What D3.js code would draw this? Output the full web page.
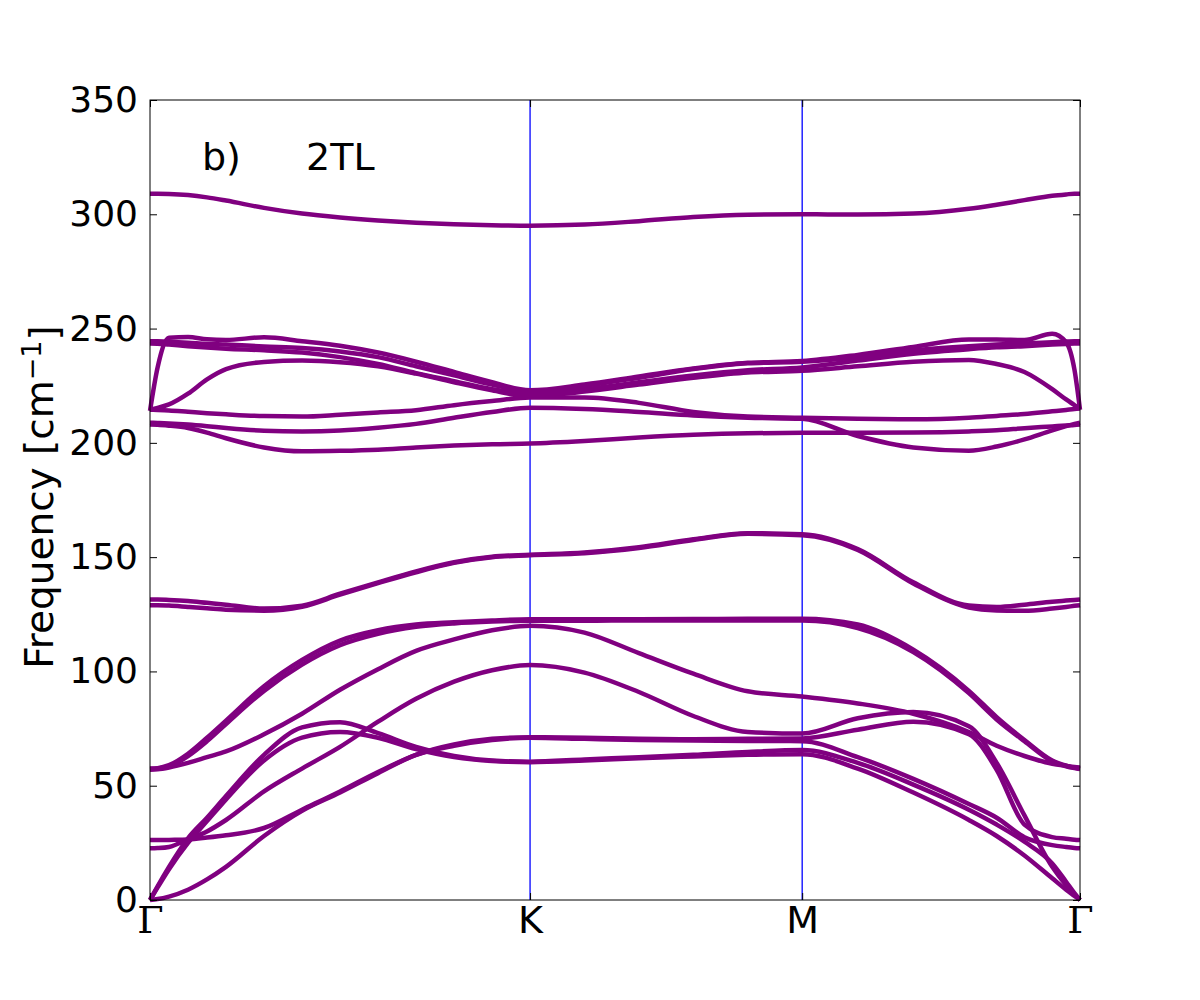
<!DOCTYPE html>
<html>
<head>
<meta charset="utf-8">
<script src="https://cdn.jsdelivr.net/npm/d3@7"></script>
<style>
  body { margin: 0; background: #fff; }
  text { font-family: "DejaVu Sans", sans-serif; }
</style>
</head>
<body>
<script>
// path coordinate: 0 = Gamma, 1 = K, 2 = M, 3 = Gamma (fraction along each segment)
var qGrid = [0, 0.02, 0.05, 0.1, 0.15, 0.2, 0.3, 0.4, 0.5, 0.6, 0.7, 0.8, 0.9, 1,
             1.2, 1.4, 1.6, 1.8, 2,
             2.2, 2.4, 2.6, 2.7, 2.8, 2.9, 2.95, 2.98, 3];

// cumulative path length at the high-symmetry points
var kDist = [0, 1.0, 1.716, 2.447];
var kLabels = ["Γ", "K", "M", "Γ"];
var yTicks = [0, 50, 100, 150, 200, 250, 300, 350];

// phonon branches, frequency in cm^-1 at each qGrid point
var bandTop = [309, 309, 308.9, 308.4, 307.4, 306, 302.8, 300.3, 298.6, 297.3, 296.3, 295.6, 295.2, 295,
               295.5, 297, 298.8, 299.8, 300,
               299.9, 300.3, 302.4, 304.2, 306.2, 308.1, 308.7, 309, 309];
var bandC1 = [214, 233, 246, 246.3, 245.3, 245, 246.2, 244.5, 242.5, 239.5, 235.5, 231, 226.5, 223,
              225.5, 229, 232.5, 235, 235.8,
              238.5, 242, 245.2, 245.2, 245, 247.7, 244, 232, 214.5];
var bandC2 = [244.5, 244.4, 244.2, 243.8, 243.3, 243, 242.2, 241.5, 240, 237.5, 233.5, 229.5, 225.5, 222.5,
              225, 228.5, 232.3, 234.8, 235.5,
              237.5, 240.5, 242.3, 243, 243.5, 244, 244.3, 244.5, 244.5];
var bandC3 = [243.5, 243.4, 243, 242.3, 241.7, 241.2, 240.5, 239.5, 237.5, 234.5, 230.5, 227, 223.5, 221.5,
              223.5, 226.5, 229.5, 231.8, 233,
              236, 239, 241, 241.8, 242.3, 243, 243.3, 243.5, 243.5];
var bandC4 = [214.5, 215.3, 216.8, 221.5, 227.8, 232.3, 235.4, 236, 235.3, 233.5, 230.3, 226.5, 223, 220.3,
              222.5, 225.5, 228.5, 230.8, 231.5,
              233.5, 235.5, 236.3, 234.5, 231, 223.5, 219, 216.5, 215];
var bandC5 = [214.5, 214.4, 214.2, 213.6, 213, 212.5, 211.7, 211.5, 212.3, 213.3, 214.3, 216.5, 218.3, 219.8,
              219.8, 217.5, 213.5, 211.5, 211,
              210.5, 210.3, 211, 211.8, 212.6, 213.8, 214.4, 214.8, 215];
var bandC6 = [208.8, 208.7, 208.5, 208, 207.3, 206.5, 205.3, 205, 205.4, 206.6, 208.3, 211, 213.5, 215.4,
              214.8, 213.5, 212, 211, 210.5,
              203, 198, 196.6, 198.4, 201.5, 205.5, 207.3, 208.3, 208.8];
var bandC7 = [208, 207.9, 207.5, 206.5, 204.5, 202, 198, 196.3, 196.5, 197, 198, 198.8, 199.4, 199.7,
              200.8, 202.3, 203.5, 204.2, 204.4,
              204.4, 204.5, 205, 205.5, 206.4, 207.2, 207.6, 207.8, 208];
var bandU1 = [131.5, 131.5, 131.3, 130.8, 130, 129.2, 127.5, 128.8, 134, 139, 143.8, 147.8, 150.2, 151,
              152, 154.3, 157.8, 160.5, 160,
              153.5, 139, 128.8, 128.2, 129.2, 130.5, 131, 131.3, 131.5];
var bandU2 = [129, 129, 128.8, 128.2, 127.6, 127, 126.6, 128.3, 133.6, 138.6, 143.4, 147.5, 150, 150.8,
              151.7, 154, 157.5, 160.2, 159.6,
              153.2, 138.5, 128, 126.7, 126.5, 127.5, 128.2, 128.7, 129];
var bandS1 = [57.5, 57.7, 59, 64, 71, 78.5, 93.5, 105, 113.5, 118, 120.5, 121.5, 122.3, 122.8,
              122.8, 122.8, 122.9, 123, 123,
              120.5, 109.5, 91.5, 80, 70, 61, 58.8, 57.9, 57.5];
var bandS2 = [57.3, 57.5, 58.5, 63, 69.5, 77, 91.5, 103, 111.5, 116.5, 119.5, 121, 121.8, 122.2,
              122.2, 122.3, 122.3, 122.3, 122.3,
              119, 108.5, 90.5, 79, 69.5, 60.7, 58.5, 57.7, 57.3];
var bandB = [57, 57.2, 58, 60, 62.5, 65, 72.5, 81.5, 92, 101, 109, 114, 118, 120,
             117, 108, 99, 91.3, 89,
             86, 81.5, 73.5, 67.5, 63, 59.6, 58.7, 58.2, 58];
var bandR = [22.6, 22.7, 23.2, 26.5, 30, 35, 47.5, 57.5, 67, 78, 88, 95.5, 100.5, 102.8,
             99.5, 91, 80.5, 73.5, 72.8,
             79.5, 82.2, 76, 60, 37, 14.5, 6.5, 2.5, 0];
var bandZ1 = [26.2, 26.2, 26.3, 26.5, 27.3, 28.3, 31.5, 39.5, 47.5, 56, 63.5, 68, 70.5, 71.2,
              71, 70.5, 70.3, 70.5, 70.7,
              74.5, 78, 72.5, 57, 33, 27.5, 26.8, 26.4, 26.2];
var bandZ2 = [0, 0.4, 1.5, 4.5, 9, 14.5, 28, 39, 47, 55.5, 63.5, 67.5, 70, 71,
              70.5, 70, 69.8, 69.6, 69.5,
              62.5, 53, 42, 36, 27.5, 24, 23.2, 22.8, 22.6];
var bandP1 = [0, 6, 14.5, 27, 36, 45.5, 63.5, 75.5, 77.8, 73, 67, 63, 61, 60.5,
              61.5, 62.5, 63.5, 64.8, 65.6,
              60, 50.5, 39.5, 33, 25.5, 16, 8, 3, 0];
var bandP2 = [0, 5.5, 13.5, 25, 34.5, 44, 61, 71, 73.5, 71, 66, 62.5, 60.8, 60.3,
              61, 62, 62.8, 63.5, 63.8,
              57.5, 47, 35, 28, 19.5, 9.5, 4.5, 1.8, 0];

var bands = [bandTop, bandC1, bandC2, bandC3, bandC4, bandC5, bandC6, bandC7,
             bandU1, bandU2, bandS1, bandS2, bandB, bandR, bandZ1, bandZ2, bandP1, bandP2];

var margin = {top: 100, right: 120, bottom: 100, left: 150};
var width = 1200, height = 1000;
var w = width - margin.left - margin.right;
var h = height - margin.top - margin.bottom;

var svg = d3.select("body").append("svg")
  .attr("width", width)
  .attr("height", height);

var g = svg.append("g").attr("transform", "translate(" + margin.left + "," + margin.top + ")");

var pathDist = d3.scaleLinear().domain([0, 1, 2, 3]).range(kDist);
var x = d3.scaleLinear().domain([0, kDist[3]]).range([0, w]);
var y = d3.scaleLinear().domain([0, 350]).range([h, 0]);

// high-symmetry lines
g.selectAll(".kline")
  .data(kDist.slice(1, 3))
  .enter().append("line")
  .attr("x1", function(d) { return x(d); })
  .attr("x2", function(d) { return x(d); })
  .attr("y1", 0).attr("y2", h)
  .attr("stroke", "blue").attr("stroke-width", 1.3);

var line = d3.line()
  .x(function(d, i) { return x(pathDist(qGrid[i])); })
  .y(function(d) { return y(d); })
  .curve(d3.curveMonotoneX);

g.selectAll(".band")
  .data(bands)
  .enter().append("path")
  .attr("d", line)
  .attr("fill", "none")
  .attr("stroke", "#800080")
  .attr("stroke-width", 4.5)
  .attr("stroke-linejoin", "round");

// axes, ticks pointing inwards
var yLeft = g.append("g")
  .call(d3.axisLeft(y).tickValues(yTicks).tickSizeInner(-7).tickSizeOuter(0).tickPadding(12));
var yRight = g.append("g").attr("transform", "translate(" + w + ",0)")
  .call(d3.axisRight(y).tickValues(yTicks).tickSizeInner(-7).tickSizeOuter(0).tickFormat(""));
var xBottom = g.append("g").attr("transform", "translate(0," + h + ")")
  .call(d3.axisBottom(x).tickValues(kDist).tickSizeInner(-7).tickSizeOuter(0).tickPadding(6)
    .tickFormat(function(d, i) { return kLabels[i]; }));
var xTop = g.append("g")
  .call(d3.axisTop(x).tickValues(kDist).tickSizeInner(-7).tickSizeOuter(0).tickFormat(""));

[yLeft, yRight, xBottom, xTop].forEach(function(a) {
  a.select(".domain").remove();
  a.selectAll("line").attr("stroke", "#000");
});
yLeft.selectAll("text").style("font-size", "36px").attr("fill", "#000");
xBottom.selectAll("text").style("font-size", "38px").attr("fill", "#000")
  .style("font-family", function(d, i) { return kLabels[i] === "Γ" ? "DejaVu Serif" : "DejaVu Sans"; });

g.append("rect")
  .attr("width", w).attr("height", h)
  .attr("fill", "none").attr("stroke", "#000").attr("stroke-width", 1);

// panel annotation
g.append("text").attr("x", 52).attr("y", 70).style("font-size", "38px").text("b)");
g.append("text").attr("x", 156).attr("y", 70).style("font-size", "38px").text("2TL");

// y axis label
var ylab = svg.append("text")
  .attr("transform", "translate(53," + (margin.top + h / 2 - 3) + ") rotate(-90)")
  .attr("text-anchor", "middle")
  .style("font-size", "39px");
ylab.append("tspan").text("Frequency [cm");
ylab.append("tspan").attr("dy", "-0.45em").style("font-size", "27px").text("−1");
ylab.append("tspan").attr("dy", "0.45em").text("]");
</script>
</body>
</html>
